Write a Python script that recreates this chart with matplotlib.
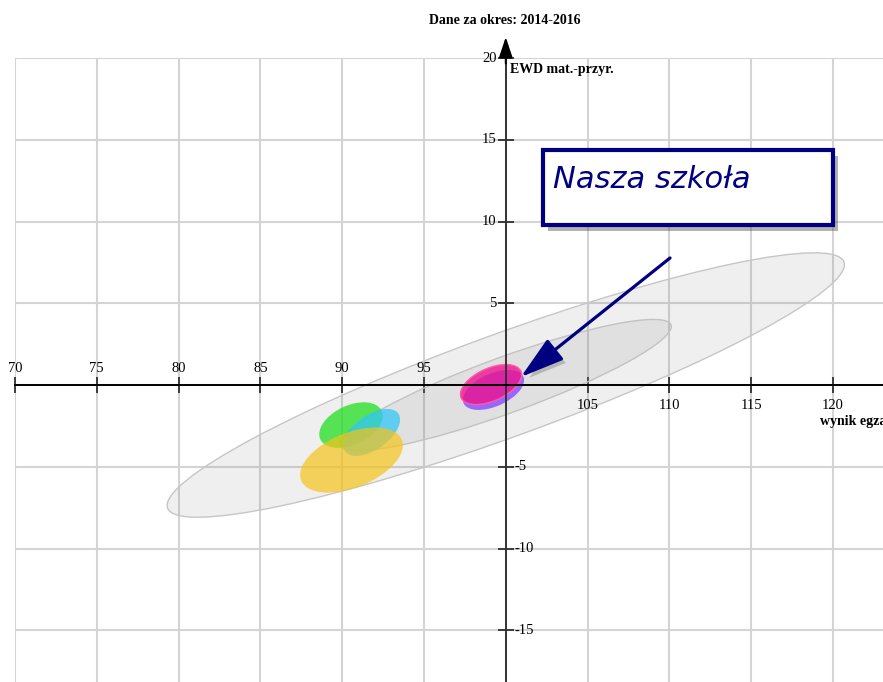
import matplotlib
matplotlib.use("Agg")
import matplotlib.pyplot as plt
import matplotlib.patheffects as pe
from matplotlib.patches import Ellipse, Rectangle

# ellipses: outer band, inner band, then the schools
ell_x = [100.0, 100.0, 90.54, 91.8, 90.57, 99.25, 99.1]
ell_y = [0.0, 0.0, -2.45, -2.9, -4.59, -0.3, 0.03]
ell_w = [44.0, 21.5, 4.14, 4.0, 6.64, 4.0, 4.0]
ell_h = [6.3, 3.42, 2.4, 2.1, 3.35, 2.0, 2.0]
ell_angle = [20.0, 20.0, 25.0, 35.4, 22.0, 24.0, 24.0]
ell_color = [(0.5, 0.5, 0.5, 0.12), (0.5, 0.5, 0.5, 0.13),
             (0.13, 0.88, 0.13, 0.75), (0.2, 0.78, 0.96, 0.75),
             (0.96, 0.77, 0.1, 0.7), (0.55, 0.32, 1.0, 0.85),
             (0.93, 0.08, 0.56, 0.8)]
ell_edge = ['#c6c6c6', '#c2c2c2', 'none', 'none', 'none', 'none', '#ff5aa8']

x_ticks = [70, 75, 80, 85, 90, 95, 100, 105, 110, 115, 120]
y_ticks = [-15, -10, -5, 0, 5, 10, 15, 20]

school_xy = (100.92, 0.49)      # arrow tip
label_xy = (110.04, 7.77)       # arrow tail

serif = 'Liberation Serif'

fig = plt.figure(figsize=(8.83, 6.82), dpi=100)
ax = fig.add_axes([15 / 883, 0, 868 / 883, 624 / 682])
ax.set_xlim(70, 123.06)
ax.set_ylim(-18.16, 20)

ax.set_xticks(x_ticks)
ax.set_yticks(y_ticks)
ax.grid(True, color='#d4d4d4', lw=1.5)
ax.set_axisbelow(True)

ax.spines['top'].set_visible(False)
ax.spines['right'].set_visible(False)
ax.spines['left'].set_position(('data', 100))
ax.spines['bottom'].set_position(('data', 0))
ax.spines['left'].set_color('#333333')
ax.spines['left'].set_linewidth(1.4)
ax.spines['bottom'].set_linewidth(1.4)
ax.tick_params(direction='inout', length=11.5, width=1.2, color='#222222',
               labelbottom=False, labelleft=False)

for x, y, w, h, a, c, e in zip(ell_x, ell_y, ell_w, ell_h, ell_angle, ell_color, ell_edge):
    ax.add_patch(Ellipse((x, y), w, h, angle=a, facecolor=c, edgecolor=e, lw=1, zorder=1))

# tick labels: left of the y axis above, right of it below
for v in x_ticks:
    if v < 100:
        ax.text(v, 0.6, str(v), ha='center', va='bottom', fontsize=10.5, family=serif)
    elif v > 100:
        ax.text(v, -0.85, str(v), ha='center', va='top', fontsize=10.5, family=serif)
for v in y_ticks:
    if v > 0:
        ax.text(99.45, v, str(v), ha='right', va='center', fontsize=10.5, family=serif)
    elif v < 0:
        ax.text(100.55, v, str(v), ha='left', va='center', fontsize=10.5, family=serif)

# y axis arrow head
ax.annotate('', xy=(100, 21.45), xytext=(100, 19.5), annotation_clip=False,
            arrowprops=dict(arrowstyle='-|>,head_length=0.9,head_width=0.3',
                            color='black', lw=1.4, mutation_scale=14))

fig.text(505 / 883, 1 - 20 / 682, 'Dane za okres: 2014-2016', ha='center', va='center',
         fontsize=10, fontweight='bold', family=serif)
ax.text(100.25, 19.27, 'EWD mat.-przyr.', ha='left', va='center',
        fontsize=10, fontweight='bold', family=serif)
ax.text(119.2, -2.2, 'wynik egzaminu', ha='left', va='center',
        fontsize=10, fontweight='bold', family=serif)

# callout box
shadow = [pe.SimplePatchShadow(offset=(4, -4), shadow_rgbFace='#555555', alpha=0.45), pe.Normal()]
box = Rectangle((102.27, 9.79), 17.73, 4.58, facecolor='white', edgecolor='#000080',
                lw=3, zorder=5, path_effects=shadow)
ax.add_patch(box)
ax.text(102.9, 12.54, 'Nasza szkoła', ha='left', va='center', fontsize=22,
        style='italic', color='#000080', zorder=6)

arrow_shadow = [pe.SimplePatchShadow(offset=(3, -3), shadow_rgbFace='#555555', alpha=0.3),
                pe.Normal()]
ax.annotate('', xy=school_xy, xytext=label_xy, zorder=6,
            arrowprops=dict(arrowstyle='-|>,head_length=1.35,head_width=0.4',
                            color='#000080', lw=2.3, mutation_scale=20,
                            shrinkA=0, shrinkB=0, path_effects=arrow_shadow))

fig.savefig('out.png', dpi=100)
